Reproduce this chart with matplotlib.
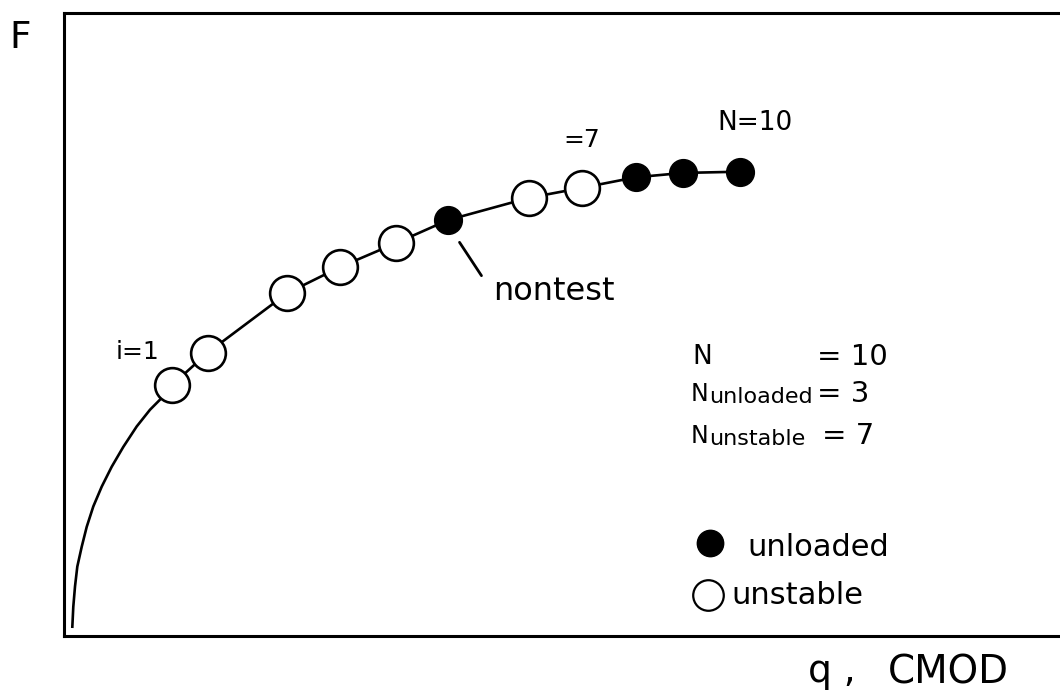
"""
Load-displacement curve with unloaded / unstable points
"""

from matplotlib import pyplot as plt

###############################################################################
# curve (arbitrary units)
curve_q = [0.087, 0.097, 0.115, 0.139, 0.185, 0.237, 0.306, 0.394, 0.498,
           0.619, 0.759, 0.898, 1.02, 1.13, 1.50, 2.33, 2.88, 3.47, 4.01,
           4.86, 5.41, 5.97, 6.46, 7.06]
curve_F = [0.10, 0.42, 0.75, 1.07, 1.39, 1.71, 2.04, 2.36, 2.68,
           3.00, 3.33, 3.60, 3.79, 4.00, 4.52, 5.48, 5.90, 6.29, 6.66,
           7.02, 7.18, 7.35, 7.42, 7.44]

unstable_q = [1.13, 1.50, 2.33, 2.88, 3.47, 4.86, 5.41]
unstable_F = [4.00, 4.52, 5.48, 5.90, 6.29, 7.02, 7.18]
unloaded_q = [4.01, 5.97, 6.46, 7.06]
unloaded_F = [6.66, 7.35, 7.42, 7.44]

N_total = 10
N_unloaded = 3
N_unstable = 7

###############################################################################
plt.rcParams['font.family'] = ['DejaVu Sans']
fig = plt.figure(figsize=(10.6, 7), dpi=100)
ax = fig.add_axes([64 / 1060, 64 / 700, 996 / 1060, 623 / 700])

ax.plot(curve_q, curve_F, color='black', linewidth=1.9, zorder=1,
        solid_joinstyle='round')
ax.plot(unstable_q, unstable_F, 'o', markersize=25, markerfacecolor='white',
        markeredgecolor='black', markeredgewidth=1.9, zorder=2)
ax.plot(unloaded_q, unloaded_F, 'o', markersize=20, markerfacecolor='black',
        markeredgecolor='black', zorder=2)

ax.set_xlim(0, 10.4)
ax.set_ylim(-0.05, 10.0)
ax.set_xticks([])
ax.set_yticks([])
ax.spines['right'].set_visible(False)
for s in ['left', 'top', 'bottom']:
    ax.spines[s].set_linewidth(2.2)


def px(x, y):
    return x / 1060, 1 - y / 700


# point labels
fig.text(*px(137, 352), 'i=1', fontsize=18, ha='center', va='center')
fig.text(*px(582, 140), '=7', fontsize=18, ha='center', va='center')
fig.text(*px(755, 123), 'N=10', fontsize=19, ha='center', va='center')
fig.text(*px(493, 291), 'nontest', fontsize=23, ha='left', va='center')
ax.annotate('', xy=px(458, 240), xytext=px(483, 278),
            xycoords='figure fraction', textcoords='figure fraction',
            arrowprops=dict(arrowstyle='-', color='black', linewidth=2))

# counts
fig.text(*px(692, 357), 'N', fontsize=19, ha='left', va='center')
fig.text(*px(817, 357), '= %d' % N_total, fontsize=21, ha='left', va='center')
fig.text(*px(691, 394), 'N', fontsize=17, ha='left', va='center')
fig.text(*px(709, 397), 'unloaded', fontsize=16, ha='left', va='center')
fig.text(*px(817, 394), '= %d' % N_unloaded, fontsize=21, ha='left',
         va='center')
fig.text(*px(691, 436), 'N', fontsize=17, ha='left', va='center')
fig.text(*px(709, 439), 'unstable', fontsize=16, ha='left', va='center')
fig.text(*px(822, 436), '= %d' % N_unstable, fontsize=21, ha='left',
         va='center')

# legend
fig.lines.append(plt.Line2D([710 / 1060], [1 - 543 / 700], marker='o',
                            markersize=19, color='black',
                            transform=fig.transFigure))
fig.lines.append(plt.Line2D([708 / 1060], [1 - 595 / 700], marker='o',
                            markersize=22, markerfacecolor='white',
                            markeredgecolor='black', markeredgewidth=1.6,
                            transform=fig.transFigure))
fig.text(*px(747, 547), 'unloaded', fontsize=22, ha='left', va='center')
fig.text(*px(731, 596), 'unstable', fontsize=22, ha='left', va='center')

# axis names
fig.text(*px(20, 38), 'F', fontsize=27, ha='center', va='center')
fig.text(*px(808, 672), 'q ,', fontsize=27, ha='left', va='center')
fig.text(*px(948, 672), 'CMOD', fontsize=28, ha='center', va='center')

plt.savefig('out.png', dpi=100, facecolor='white')
